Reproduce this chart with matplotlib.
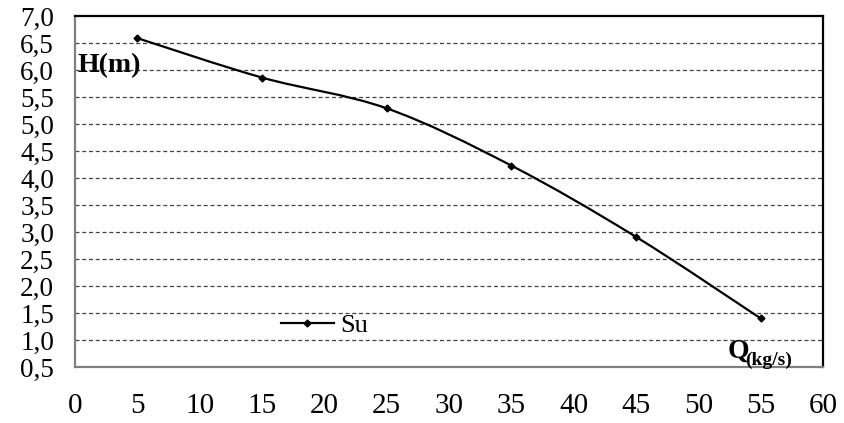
import matplotlib.pyplot as plt
import numpy as np
from matplotlib.path import Path
from matplotlib.patches import PathPatch

# pump curve
flow = [5, 15, 25, 35, 45, 55]
head = [6.59, 5.86, 5.29, 4.23, 2.91, 1.40]
series_name = "Su"
x_ticks = [0, 5, 10, 15, 20, 25, 30, 35, 40, 45, 50, 55, 60]
y_ticks = [0.5, 1.0, 1.5, 2.0, 2.5, 3.0, 3.5, 4.0, 4.5, 5.0, 5.5, 6.0, 6.5, 7.0]

plt.rcParams["font.family"] = ["Liberation Serif", "DejaVu Serif"]


def smooth_path(xs, ys, t=1 / 6):
    """Excel-style smoothed line: cubic Bezier through every point."""
    pts = np.column_stack([xs, ys]).astype(float)
    n = len(pts)
    verts = [pts[0]]
    codes = [Path.MOVETO]
    for i in range(n - 1):
        p_prev = pts[max(i - 1, 0)]
        p0, p1 = pts[i], pts[i + 1]
        p_next = pts[min(i + 2, n - 1)]
        c1 = p0 + (p1 - p_prev) * t
        c2 = p1 - (p_next - p0) * t
        verts += [c1, c2, p1]
        codes += [Path.CURVE4] * 3
    return Path(verts, codes)


fig = plt.figure(figsize=(8.44, 4.23), dpi=100)
ax = fig.add_axes([75 / 844, 1 - 367 / 423, 748 / 844, 351 / 423])

ax.add_patch(PathPatch(smooth_path(flow, head), facecolor="none",
                       edgecolor="black", lw=1.6, zorder=3))
ax.plot(flow, head, ls="none", marker="D", ms=3.5, color="black", zorder=4)
# legend handle only
ax.plot([], [], color="black", lw=1.6, marker="D", ms=3.5, label=series_name)

ax.set_xlim(0, 60)
ax.set_ylim(0.5, 7.0)
ax.set_xticks(x_ticks)
ax.set_yticks(y_ticks)
ax.set_xticklabels([str(v) for v in x_ticks], fontsize=21)
ax.set_yticklabels([f"{v:.1f}".replace(".", ",") for v in y_ticks], fontsize=19.5)
ax.tick_params(axis="both", length=0)
ax.tick_params(axis="y", pad=15)
ax.tick_params(axis="x", pad=19)

for v in y_ticks[1:-1]:
    ax.axhline(v, color="#444444", lw=0.9, dashes=(3.2, 2.2), zorder=1)

for side in ("left", "bottom"):
    ax.spines[side].set_color("#7f7f7f")
    ax.spines[side].set_linewidth(1.6)
for side in ("top", "right"):
    ax.spines[side].set_color("black")
    ax.spines[side].set_linewidth(1.6)

ax.text(0.003, 0.86, "H(m)", transform=ax.transAxes, fontsize=20,
        fontweight="bold", ha="left", va="center")
ax.text(0.872, 0.025, "Q", transform=ax.transAxes, fontsize=20,
        fontweight="bold", ha="left", va="baseline")
ax.text(0.896, 0.005, "(kg/s)", transform=ax.transAxes, fontsize=14,
        fontweight="bold", ha="left", va="baseline")

ax.legend(loc="center left", bbox_to_anchor=(0.2754, 0.1177), frameon=False,
          fontsize=19, handlelength=2.0, handletextpad=0.25, borderpad=0,
          borderaxespad=0)

fig.savefig("out.png", dpi=100)
